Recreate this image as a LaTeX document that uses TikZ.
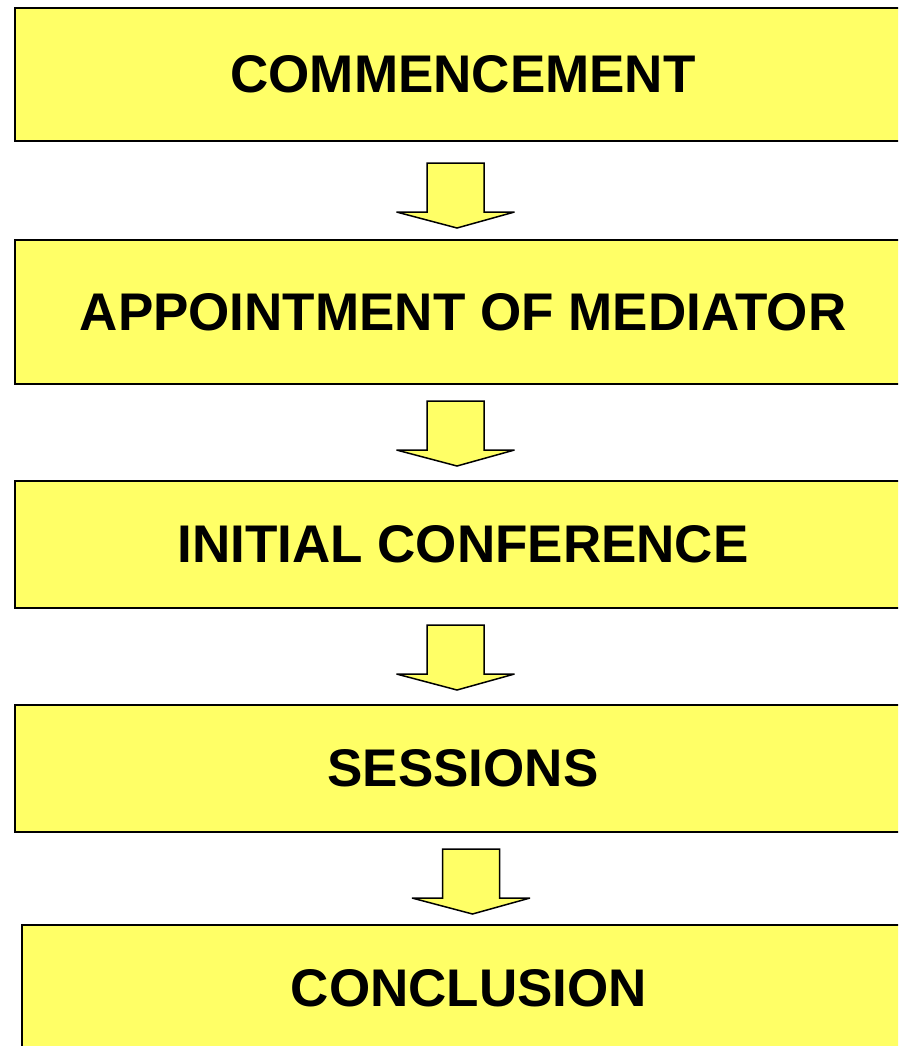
\documentclass[tikz,border=0pt]{standalone}
\usepackage{fontspec}
\setmainfont{Liberation Sans}
\usetikzlibrary{calc}
\definecolor{stageyellow}{HTML}{FFFF66}
\tikzset{
  stagebox/.style={draw=black, line width=2pt, fill=stageyellow, rectangle,
    minimum width=896pt, inner sep=0pt, font=\fontsize{53}{60}\selectfont\bfseries},
  arrowfill/.style={draw=black, line width=1.5pt, fill=stageyellow, line join=miter, miter limit=3},
  blockarrow/.pic={\draw[arrowfill] (-28.5,0) -- (28.5,0) -- (28.5,49) -- (59,49)
     -- (1.5,65) -- (-59,49) -- (-28.5,49) -- cycle;}
}
\begin{document}
\begin{tikzpicture}[x=1pt,y=-1pt]
\useasboundingbox (0,0) rectangle (898,1046);
\clip (0,0) rectangle (898,1046);
\node[stagebox, minimum height=133pt] (c1) at (463,74.5) {COMMENCEMENT};
\node[stagebox, minimum height=144pt] (c2) at (463,312) {APPOINTMENT OF MEDIATOR};
\node[stagebox, minimum height=127pt] (c3) at (463,544.5) {INITIAL CONFERENCE};
\node[stagebox, minimum height=127pt] (c4) at (463,768.5) {SESSIONS};
\node[stagebox, minimum height=130pt, anchor=north west] (c5) at (21,924) {};
\node[font=\fontsize{53}{60}\selectfont\bfseries] (t5) at (469,988) {CONCLUSION};
\pic at ($(c1.south)+(-7.5,21)$) {blockarrow};
\pic at ($(c2.south)+(-7.5,16)$) {blockarrow};
\pic at ($(c3.south)+(-7.5,16)$) {blockarrow};
\pic at ($(c4.south)+(8,16)$) {blockarrow};
\end{tikzpicture}
\end{document}
